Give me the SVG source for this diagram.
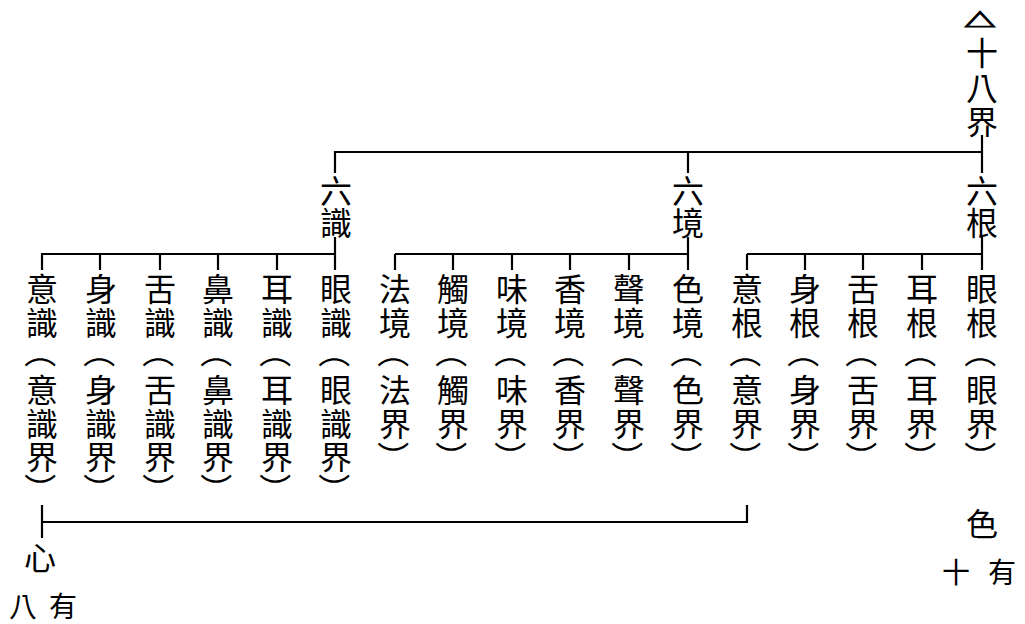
<svg xmlns="http://www.w3.org/2000/svg" width="1025" height="624" viewBox="0 0 1025 624">
<style>
text{font-family:"Noto Sans CJK TC","Noto Sans CJK SC",sans-serif;font-size:32px;text-anchor:middle;dominant-baseline:central;fill:#000}
.sm{font-size:28px}
.ln{stroke:#000;stroke-width:2.2;fill:none}
</style>
<defs>
<text id="po">（</text>
<text id="pc">）</text>
</defs>
<rect width="1025" height="624" fill="#fff"/>
<g id="connectors" class="ln">
<path d="M982 135V173M335 152H983M335 151V173M688 152V173"/>
<path d="M335 237V254M688 237V254M982 237V254"/>
<path d="M41 254H336M395 254H689M747 254H983"/>
<path d="M42 254V270M100 254V270M160 254V270M218 254V270M277 254V270M335 254V270"/>
<path d="M395 254V270M453 254V270M512 254V270M570 254V270M629 254V270M688 254V270"/>
<path d="M747 254V270M805 254V270M863 254V270M922 254V270M982 254V270"/>
<path d="M42 505V538M42 522H747V505"/>
</g>
<g id="root"><text transform="translate(980,19) scale(1,0.6)" style="font-size:31px;stroke:#000;stroke-width:2">△</text><text x="982" y="51">十</text><text x="982" y="86">八</text><text x="982" y="120">界</text></g>
<g id="liushi"><text x="336" y="189">六</text><text x="336" y="221">識</text></g>
<g id="liujing"><text x="688" y="189">六</text><text x="688" y="221">境</text></g>
<g id="liugen"><text x="982" y="189">六</text><text x="982" y="221">根</text></g>
<g id="yishi"><text x="42" y="287">意</text><text x="42" y="321">識</text><use href="#po" transform="translate(42,352) rotate(90)"/><text x="42" y="388">意</text><text x="42" y="422">識</text><text x="42" y="455">界</text><use href="#pc" transform="translate(42,489) rotate(90)"/></g>
<g id="shenshi"><text x="101" y="287">身</text><text x="101" y="321">識</text><use href="#po" transform="translate(101,352) rotate(90)"/><text x="101" y="388">身</text><text x="101" y="422">識</text><text x="101" y="455">界</text><use href="#pc" transform="translate(101,489) rotate(90)"/></g>
<g id="sheshi"><text x="160" y="287">舌</text><text x="160" y="321">識</text><use href="#po" transform="translate(160,352) rotate(90)"/><text x="160" y="388">舌</text><text x="160" y="422">識</text><text x="160" y="455">界</text><use href="#pc" transform="translate(160,489) rotate(90)"/></g>
<g id="bishi"><text x="218" y="287">鼻</text><text x="218" y="321">識</text><use href="#po" transform="translate(218,352) rotate(90)"/><text x="218" y="388">鼻</text><text x="218" y="422">識</text><text x="218" y="455">界</text><use href="#pc" transform="translate(218,489) rotate(90)"/></g>
<g id="ershi"><text x="277" y="287">耳</text><text x="277" y="321">識</text><use href="#po" transform="translate(277,352) rotate(90)"/><text x="277" y="388">耳</text><text x="277" y="422">識</text><text x="277" y="455">界</text><use href="#pc" transform="translate(277,489) rotate(90)"/></g>
<g id="yanshi"><text x="336" y="287">眼</text><text x="336" y="321">識</text><use href="#po" transform="translate(336,352) rotate(90)"/><text x="336" y="388">眼</text><text x="336" y="422">識</text><text x="336" y="455">界</text><use href="#pc" transform="translate(336,489) rotate(90)"/></g>
<g id="fajing"><text x="395" y="287">法</text><text x="395" y="321">境</text><use href="#po" transform="translate(395,352) rotate(90)"/><text x="395" y="388">法</text><text x="395" y="422">界</text><use href="#pc" transform="translate(395,457) rotate(90)"/></g>
<g id="chujing"><text x="453" y="287">觸</text><text x="453" y="321">境</text><use href="#po" transform="translate(453,352) rotate(90)"/><text x="453" y="388">觸</text><text x="453" y="422">界</text><use href="#pc" transform="translate(453,457) rotate(90)"/></g>
<g id="weijing"><text x="512" y="287">味</text><text x="512" y="321">境</text><use href="#po" transform="translate(512,352) rotate(90)"/><text x="512" y="388">味</text><text x="512" y="422">界</text><use href="#pc" transform="translate(512,457) rotate(90)"/></g>
<g id="xiangjing"><text x="570" y="287">香</text><text x="570" y="321">境</text><use href="#po" transform="translate(570,352) rotate(90)"/><text x="570" y="388">香</text><text x="570" y="422">界</text><use href="#pc" transform="translate(570,457) rotate(90)"/></g>
<g id="shengjing"><text x="629" y="287">聲</text><text x="629" y="321">境</text><use href="#po" transform="translate(629,352) rotate(90)"/><text x="629" y="388">聲</text><text x="629" y="422">界</text><use href="#pc" transform="translate(629,457) rotate(90)"/></g>
<g id="sejing"><text x="688" y="287">色</text><text x="688" y="321">境</text><use href="#po" transform="translate(688,352) rotate(90)"/><text x="688" y="388">色</text><text x="688" y="422">界</text><use href="#pc" transform="translate(688,457) rotate(90)"/></g>
<g id="yigen"><text x="747" y="287">意</text><text x="747" y="321">根</text><use href="#po" transform="translate(747,352) rotate(90)"/><text x="747" y="388">意</text><text x="747" y="422">界</text><use href="#pc" transform="translate(747,457) rotate(90)"/></g>
<g id="shengen"><text x="805" y="287">身</text><text x="805" y="321">根</text><use href="#po" transform="translate(805,352) rotate(90)"/><text x="805" y="388">身</text><text x="805" y="422">界</text><use href="#pc" transform="translate(805,457) rotate(90)"/></g>
<g id="shegen"><text x="863" y="287">舌</text><text x="863" y="321">根</text><use href="#po" transform="translate(863,352) rotate(90)"/><text x="863" y="388">舌</text><text x="863" y="422">界</text><use href="#pc" transform="translate(863,457) rotate(90)"/></g>
<g id="ergen"><text x="922" y="287">耳</text><text x="922" y="321">根</text><use href="#po" transform="translate(922,352) rotate(90)"/><text x="922" y="388">耳</text><text x="922" y="422">界</text><use href="#pc" transform="translate(922,457) rotate(90)"/></g>
<g id="yangen"><text x="982" y="287">眼</text><text x="982" y="321">根</text><use href="#po" transform="translate(982,352) rotate(90)"/><text x="982" y="388">眼</text><text x="982" y="422">界</text><use href="#pc" transform="translate(982,457) rotate(90)"/></g>
<g id="xin"><text x="40" y="556">心</text></g>
<g id="bayou"><text class="sm" x="23" y="605">八</text><text class="sm" x="63" y="605">有</text></g>
<g id="se"><text x="982" y="522">色</text></g>
<g id="shiyou"><text class="sm" x="956" y="571">十</text><text class="sm" x="1002" y="571">有</text></g>
</svg>
